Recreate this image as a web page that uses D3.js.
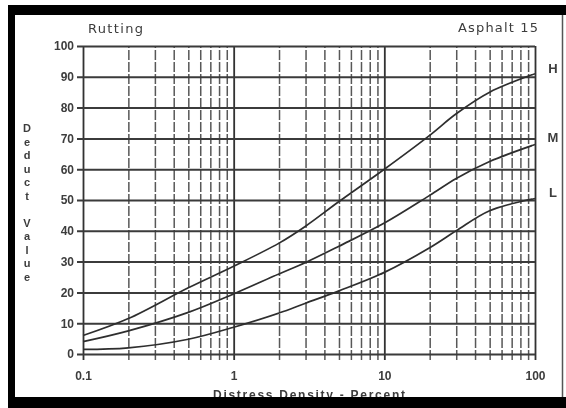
<!DOCTYPE html>
<html>
<head>
<meta charset="utf-8">
<script src="https://cdn.jsdelivr.net/npm/d3@7"></script>
<style>
	html, body { margin: 0; padding: 0; background: white; }
	svg { display: block; }
	text { font-family: "Liberation Sans", "DejaVu Sans", sans-serif; font-weight: bold; fill: #3c3c3c; }
	.title { font-family: "DejaVu Sans", sans-serif; font-weight: normal; }
</style>
</head>
<body>
<svg id="chart"></svg>
<script>
(function(){

	//Chart data
	var densityTicks = [0.1, 1, 10, 100];
	var deductTicks = [0, 10, 20, 30, 40, 50, 60, 70, 80, 90, 100];
	var severityNames = ["H", "M", "L"];
	var densityPoints = [0.1, 0.2, 0.5, 1, 2, 3, 5, 10, 20, 30, 50, 100];
	var highDeduct = [6, 11.5, 21.5, 28.5, 36, 41.5, 49.5, 60, 71, 78, 85, 91];
	var mediumDeduct = [4, 7.5, 13.5, 19.5, 26, 29.7, 35, 42.5, 51.5, 57, 62.5, 68];
	var lowDeduct = [1.5, 2, 4.8, 8.7, 13.3, 16.5, 20.5, 26.5, 34.5, 40, 46.5, 50.5];

	//SVG Configurations
	var svgWidth = 566;
	var svgHeight = 408;
	var left = 83, right = 535, top = 46, bottom = 354;
	var lineColor = "#3a3a3a";

	var svg = d3.select("#chart")
		.attr("width", svgWidth)
		.attr("height", svgHeight);

	svg.append("rect")
		.attr("width", svgWidth)
		.attr("height", svgHeight)
		.attr("fill", "white");

	//slight blur so the lines look like the scan
	svg.append("defs").append("filter")
		.attr("id", "scan")
		.append("feGaussianBlur")
		.attr("stdDeviation", 0.45);

	var chart = svg.append("g").attr("filter", "url(#scan)");

	var x = d3.scaleLog().domain([0.1, 100]).range([left, right]);
	var y = d3.scaleLinear().domain([0, 100]).range([bottom, top]);

	function isMajor(d){ return densityTicks.indexOf(d) >= 0; }

	//vertical log grid, drawn as the bottom axis ticks
	var xAxis = chart.append("g")
		.attr("transform", "translate(0," + (bottom + 6) + ")")
		.call(d3.axisBottom(x)
			.tickValues(x.ticks())
			.tickSize(-(bottom + 6 - top))
			.tickPadding(11)
			.tickFormat(function(d){
				return isMajor(d) ? d3.format("~g")(d) : "";
			}));
	xAxis.select(".domain").remove();
	xAxis.selectAll("line")
		.attr("stroke", function(d){ return isMajor(d) ? "#333" : "#585858"; })
		.attr("stroke-width", function(d){ return isMajor(d) ? 1.8 : 1.5; })
		.attr("stroke-dasharray", function(d){ return isMajor(d) ? null : "10,2"; });
	xAxis.selectAll("text")
		.attr("font-size", "12px")
		.attr("fill", "#3c3c3c");

	//horizontal grid, drawn as the left axis ticks
	var yAxis = chart.append("g")
		.attr("transform", "translate(" + (left - 6) + ",0)")
		.call(d3.axisLeft(y)
			.tickValues(deductTicks)
			.tickSize(-(right - left + 6))
			.tickPadding(3));
	yAxis.select(".domain").remove();
	yAxis.selectAll("line")
		.attr("stroke", lineColor)
		.attr("stroke-width", 2);
	yAxis.selectAll("text")
		.attr("font-size", "12px")
		.attr("fill", "#3c3c3c");

	//deduct curves
	var series = [highDeduct, mediumDeduct, lowDeduct];
	var line = d3.line()
		.x(function(d, i){ return x(densityPoints[i]); })
		.y(function(d){ return y(d); })
		.curve(d3.curveCatmullRom.alpha(0.5));

	chart.selectAll(".curve")
		.data(series)
		.enter()
		.append("path")
		.classed("curve", true)
		.attr("d", line)
		.attr("fill", "none")
		.attr("stroke", "#2e2e2e")
		.attr("stroke-width", 1.7);

	//severity labels at the right end of each curve
	var labelY = [68, 137, 192];
	chart.selectAll(".sevLabel")
		.data(severityNames)
		.enter()
		.append("text")
		.classed("sevLabel", true)
		.attr("x", 553)
		.attr("y", function(d, i){ return labelY[i] + 5; })
		.attr("text-anchor", "middle")
		.attr("font-size", "13px")
		.text(function(d){ return d; });

	//titles
	chart.append("text")
		.classed("title", true)
		.attr("x", 88)
		.attr("y", 33)
		.attr("font-size", "13px")
		.attr("textLength", 55)
		.text("Rutting");

	chart.append("text")
		.classed("title", true)
		.attr("x", 458)
		.attr("y", 32)
		.attr("font-size", "13px")
		.attr("textLength", 80)
		.text("Asphalt 15");

	//stacked y label
	var yLetters = "Deduct Value".split("");
	chart.selectAll(".yLetter")
		.data(yLetters)
		.enter()
		.append("text")
		.classed("yLetter", true)
		.attr("x", 27)
		.attr("y", function(d, i){ return 132 + i * 13.5; })
		.attr("text-anchor", "middle")
		.attr("font-size", "11px")
		.text(function(d){ return d; });

	chart.append("text")
		.attr("x", 213)
		.attr("y", 399)
		.attr("font-size", "12px")
		.attr("textLength", 192)
		.text("Distress Density - Percent");

	//black scan frame
	svg.append("rect").attr("x", 8).attr("y", 5).attr("width", svgWidth - 8).attr("height", 10).attr("fill", "black");
	svg.append("rect").attr("x", 8).attr("y", 5).attr("width", 7).attr("height", svgHeight - 5).attr("fill", "black");
	svg.append("rect").attr("x", 8).attr("y", 397).attr("width", svgWidth - 8).attr("height", 11).attr("fill", "black");
	svg.append("line")
		.attr("x1", 562.5).attr("x2", 562.5)
		.attr("y1", 15).attr("y2", 397)
		.attr("stroke", "#555")
		.attr("stroke-width", 1.5);

})();
</script>
</body>
</html>
